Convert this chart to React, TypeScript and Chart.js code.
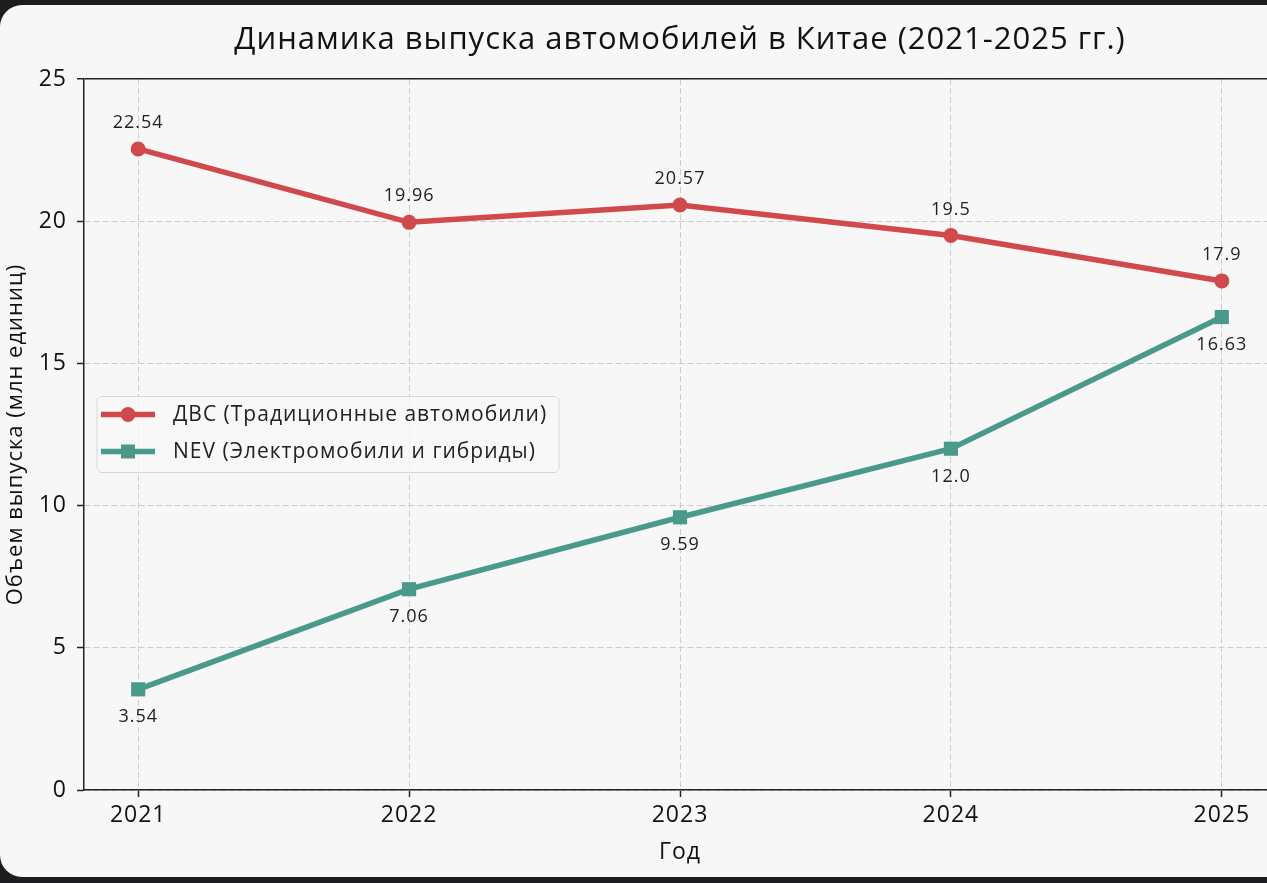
import React, { useEffect, useRef } from "react";
import { Chart, registerables } from "chart.js";

Chart.register(...registerables);

const years = [2021, 2022, 2023, 2024, 2025];
const iceValues = [22.54, 19.96, 20.57, 19.5, 17.9];
const nevValues = [3.54, 7.06, 9.59, 12.0, 16.63];
const iceName = "ДВС (Традиционные автомобили)";
const nevName = "NEV (Электромобили и гибриды)";
const titleText = "Динамика выпуска автомобилей в Китае (2021-2025 гг.)";
const xTitle = "Год";
const yTitle = "Объем выпуска (млн единиц)";
const yTicks = [0, 5, 10, 15, 20, 25];

const RED = "#d0494d";
const TEAL = "#4a9a8c";
const FONT = "'Open Sans', 'DejaVu Sans', sans-serif";
const CANVAS_W = 1340;
const CANVAS_H = 883;

const fmt = (v: number) => (Number.isInteger(v) ? v.toFixed(1) : String(v));

const spacingPlugin = {
  id: "letterSpacing",
  beforeUpdate(chart: any) {
    chart.ctx.letterSpacing = "1px";
  },
  beforeDraw(chart: any) {
    chart.ctx.letterSpacing = "1px";
  },
};

const labelsPlugin = {
  id: "pointLabels",
  afterDatasetsDraw(chart: any) {
    const ctx = chart.ctx;
    ctx.save();
    ctx.font = `18px ${FONT}`;
    ctx.fillStyle = "#222";
    ctx.textAlign = "center";
    ctx.textBaseline = "middle";
    chart.data.datasets.forEach((ds: any, di: number) => {
      const meta = chart.getDatasetMeta(di);
      meta.data.forEach((pt: any, i: number) => {
        const v = ds.data[i].y;
        const dy = di === 0 ? -26 : 28;
        ctx.fillText(fmt(v), pt.x, pt.y + dy);
      });
    });
    ctx.restore();
  },
};

const legendPlugin = {
  id: "customLegend",
  afterDraw(chart: any) {
    const ctx = chart.ctx;
    const ca = chart.chartArea;
    ctx.save();
    ctx.font = `21px ${FONT}`;
    const items = chart.data.datasets.map((d: any) => ({
      text: d.label,
      color: d.borderColor,
      style: d.pointStyle,
    }));
    const textW = Math.max(...items.map((it: any) => ctx.measureText(it.text).width));
    const boxX = ca.left + 13;
    const boxW = 76 + textW + 12;
    const boxH = 76;
    const boxY = (ca.top + ca.bottom) / 2 - boxH / 2;
    ctx.beginPath();
    ctx.roundRect(boxX, boxY, boxW, boxH, 5);
    ctx.fillStyle = "rgba(247,247,247,0.8)";
    ctx.fill();
    ctx.strokeStyle = "#d6d6d6";
    ctx.lineWidth = 1;
    ctx.stroke();
    items.forEach((it: any, i: number) => {
      const y = boxY + 18 + i * 37;
      ctx.beginPath();
      ctx.moveTo(boxX + 4, y);
      ctx.lineTo(boxX + 58, y);
      ctx.strokeStyle = it.color;
      ctx.lineWidth = 5.5;
      ctx.stroke();
      ctx.fillStyle = it.color;
      const mx = boxX + 31;
      if (it.style === "circle") {
        ctx.beginPath();
        ctx.arc(mx, y, 7.5, 0, Math.PI * 2);
        ctx.fill();
      } else {
        ctx.fillRect(mx - 7, y - 7, 14, 14);
      }
      ctx.fillStyle = "#222";
      ctx.textAlign = "left";
      ctx.textBaseline = "middle";
      ctx.fillText(it.text, boxX + 76, y + 1);
    });
    ctx.restore();
  },
};

export default function App() {
  const ref = useRef<HTMLCanvasElement | null>(null);

  useEffect(() => {
    if (!ref.current) return;
    const chart = new Chart(ref.current, {
      type: "line",
      data: {
        datasets: [
          {
            label: iceName,
            data: years.map((x, i) => ({ x, y: iceValues[i] })),
            borderColor: RED,
            backgroundColor: RED,
            borderWidth: 5.5,
            pointStyle: "circle",
            pointRadius: 7.5,
            pointBorderWidth: 0,
            pointBackgroundColor: RED,
            tension: 0,
          },
          {
            label: nevName,
            data: years.map((x, i) => ({ x, y: nevValues[i] })),
            borderColor: TEAL,
            backgroundColor: TEAL,
            borderWidth: 5.5,
            pointStyle: "rect",
            pointRadius: 10,
            pointBorderWidth: 0,
            pointBackgroundColor: TEAL,
            tension: 0,
          },
        ],
      },
      options: {
        animation: false,
        responsive: false,
        devicePixelRatio: 1,
        layout: { padding: { left: 0, top: 0, right: CANVAS_W - 1276, bottom: 0 } },
        plugins: {
          legend: { display: false },
          tooltip: { enabled: false },
          title: {
            display: true,
            text: titleText,
            fullSize: false,
            color: "#111",
            font: { family: FONT, size: 31, weight: "normal" },
            padding: { top: 22, bottom: 19.8 },
          },
        },
        scales: {
          x: {
            type: "linear",
            min: 2020.8,
            max: 2025.2,
            afterBuildTicks: (s: any) => {
              s.ticks = years.map((v) => ({ value: v }));
            },
            afterFit: (s: any) => {
              s.height = 93;
            },
            ticks: {
              callback: (v: any) => String(v),
              color: "#111",
              font: { family: FONT, size: 23 },
              padding: 5,
              maxRotation: 0,
              autoSkip: false,
            },
            grid: {
              color: "#cccccc",
              lineWidth: 1,
              tickColor: "#222",
              tickLength: 7,
              tickWidth: 1.5,
              tickBorderDash: [],
            },
            border: { display: true, color: "#222", width: 1.5, dash: [6, 3] },
            title: {
              display: true,
              text: xTitle,
              color: "#111",
              font: { family: FONT, size: 23 },
              padding: { top: 0, bottom: 17 },
            },
          },
          y: {
            min: 0,
            max: 25,
            afterBuildTicks: (s: any) => {
              s.ticks = yTicks.map((v) => ({ value: v }));
            },
            afterFit: (s: any) => {
              s.width = 84;
            },
            ticks: {
              color: "#111",
              font: { family: FONT, size: 23 },
              padding: 10,
            },
            grid: {
              color: (c: any) => (c.tick && c.tick.value === 25 ? "#222" : "#cccccc"),
              lineWidth: (c: any) => (c.tick && c.tick.value === 25 ? 1.5 : 1),
              tickColor: "#222",
              tickLength: 7,
              tickWidth: 1.5,
              tickBorderDash: [],
            },
            border: {
              display: true,
              color: "#222",
              width: 1.5,
              dash: (c: any) => (c.tick && c.tick.value === 25 ? [] : [6, 3]),
            },
            title: {
              display: true,
              text: yTitle,
              color: "#111",
              font: { family: FONT, size: 22 },
              padding: { top: 3, bottom: 0 },
            },
          },
        },
      },
      plugins: [spacingPlugin, labelsPlugin, legendPlugin],
    } as any);
    return () => chart.destroy();
  }, []);

  return (
    <div
      style={{
        position: "fixed",
        left: 0,
        top: 0,
        width: 1267,
        height: 883,
        background: "#1d1d20",
        overflow: "hidden",
      }}
    >
      <div
        style={{
          position: "absolute",
          left: 0,
          top: 5,
          width: 1400,
          height: 872,
          background: "#f7f7f7",
          borderRadius: "22px 0 0 22px",
        }}
      />
      <canvas
        ref={ref}
        width={CANVAS_W}
        height={CANVAS_H}
        style={{ position: "absolute", left: 0, top: 0, width: CANVAS_W, height: CANVAS_H }}
      />
    </div>
  );
}
